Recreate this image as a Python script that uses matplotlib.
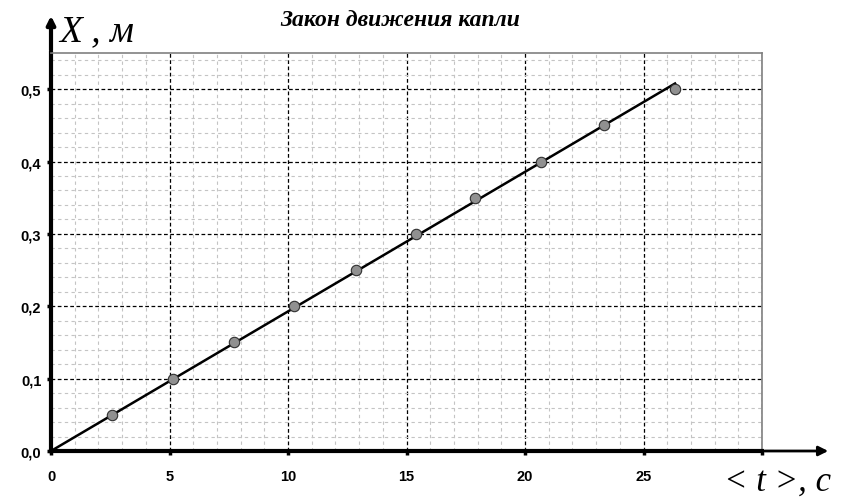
import numpy as np
import matplotlib.pyplot as plt
from matplotlib.ticker import MultipleLocator, FuncFormatter

# measured drop positions
t_vals = [2.58, 5.16, 7.73, 10.26, 12.89, 15.42, 17.90, 20.66, 23.33, 26.33]
x_vals = [0.05, 0.10, 0.15, 0.20, 0.25, 0.30, 0.35, 0.40, 0.45, 0.50]
x_ticks = [0, 5, 10, 15, 20, 25, 30]
x_tick_labels = ['0', '5', '10', '15', '20', '25', '']
y_ticks = [0.0, 0.1, 0.2, 0.3, 0.4, 0.5]

title = 'Закон движения капли'
xlabel = '< t >, c'
ylabel = 'X , м'

# linear fit through the origin
t_arr = np.array(t_vals)
x_arr = np.array(x_vals)
k = np.sum(t_arr * x_arr) / np.sum(t_arr ** 2)
t_fit = np.array([0, t_arr.max()])

fig = plt.figure(figsize=(8.42, 5.02), dpi=100)
ax = fig.add_axes([51 / 842, 50 / 502, 711 / 842, 398 / 502])

ax.set_xlim(0, 30)
ax.set_ylim(0, 0.55)

ax.xaxis.set_minor_locator(MultipleLocator(1))
ax.yaxis.set_minor_locator(MultipleLocator(0.02))
ax.set_xticks(x_ticks)
ax.set_xticklabels(x_tick_labels)
ax.set_yticks(y_ticks)
ax.yaxis.set_major_formatter(FuncFormatter(lambda v, p: f'{v:.1f}'.replace('.', ',')))

ax.grid(which='minor', color='#c4c4c4', linestyle=(0, (3, 3)), linewidth=0.8)
ax.grid(which='major', color='black', linestyle=(0, (3, 2)), linewidth=0.9)
ax.set_axisbelow(True)

for s in ['top', 'right']:
    ax.spines[s].set_color('#808080')
    ax.spines[s].set_linewidth(1.2)
for s in ['left', 'bottom']:
    ax.spines[s].set_color('black')
    ax.spines[s].set_linewidth(3)

ax.tick_params(which='major', length=3, width=2.5, direction='out')
ax.tick_params(which='minor', length=0)
for lab in ax.get_xticklabels() + ax.get_yticklabels():
    lab.set_fontfamily('Liberation Sans')
    lab.set_fontweight('bold')
    lab.set_fontsize(10.5)
ax.tick_params(axis='x', pad=10)
ax.tick_params(axis='y', pad=4)

ax.plot(t_fit, k * t_fit, color='black', linewidth=1.8, zorder=3)
ax.plot(t_vals, x_vals, 'o', markersize=7.5, markerfacecolor='#909090',
        markeredgecolor='#303030', markeredgewidth=0.8, zorder=4)

# axis arrows
ax.annotate('', xy=(831 / 842, 50 / 502), xytext=(762 / 842, 50 / 502),
            xycoords='figure fraction',
            arrowprops=dict(arrowstyle='-|>', color='black', lw=2, mutation_scale=14))
ax.annotate('', xy=(51 / 842, 1 - 14 / 502), xytext=(51 / 842, 1 - 54 / 502),
            xycoords='figure fraction',
            arrowprops=dict(arrowstyle='-|>', color='black', lw=3, mutation_scale=12))

fig.text(400 / 842, 1 - 21 / 502, title, fontfamily='Liberation Serif',
         fontstyle='italic', fontweight='bold', fontsize=17, ha='center', va='center')
fig.text(59 / 842, 1 - 32 / 502, ylabel, fontfamily='Liberation Serif',
         fontstyle='italic', fontsize=27, ha='left', va='center')
fig.text(831 / 842, 1 - 482 / 502, xlabel, fontfamily='Liberation Serif',
         fontstyle='italic', fontsize=25, ha='right', va='center')

fig.savefig('out.png', dpi=100)
